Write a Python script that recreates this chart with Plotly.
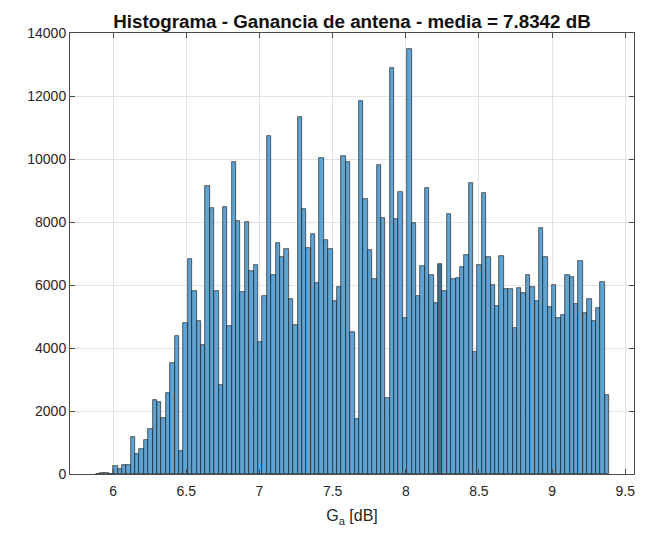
import plotly.graph_objects as go

# Histogram data
bin_start = 5.88
bin_width = 0.03
counts = [
    15, 30, 25, 0,
    250, 150, 285, 295, 1165, 650, 800, 1075, 1420, 2350, 2300, 1790, 2560, 3510, 4385, 715, 4800,
    6820, 5800, 4870, 4110, 9150, 8450, 5820, 2825, 8475, 4690, 9910, 8030, 5765, 8010, 6450, 6620, 4185,
    5640, 10730, 6325, 7345, 6900, 7155, 5565, 4740, 11330, 8410, 7165, 7630, 6060, 10030, 7420, 7135,
    5500, 5925, 10090, 9910, 4510, 1740, 11850, 8740, 7125, 6200, 9820, 8115, 2400, 12900, 8085, 8940,
    4955, 13500, 7970, 5660, 6590, 9085, 6315, 5430,
    6670, 5800, 8250, 6190, 6220, 6570, 6960, 9250, 3880, 6620, 8910, 6900, 6010, 5320, 6930, 5870,
    5870, 4640, 5900, 5740, 6320, 5950, 5500, 7800, 6900, 5290, 6010, 4950, 5050, 6320, 6270, 5400,
    6770, 5100, 5540, 4850, 5260, 6110, 2510,
]
x_ticks = [6, 6.5, 7, 7.5, 8, 8.5, 9, 9.5]
x_ticklabels = ["6", "6.5", "7", "7.5", "8", "8.5", "9", "9.5"]
y_ticks = [0, 2000, 4000, 6000, 8000, 10000, 12000, 14000]
title_text = "Histograma - Ganancia de antena - media = 7.8342 dB"
x_label = "G<sub>a</sub> [dB]"

centers = [bin_start + bin_width * (i + 0.5) for i in range(len(counts))]
face = "#5fa3d3"
dark_index = 78
colors = [face] * len(counts)
colors[dark_index] = "#3f6f93"

FONT = "Liberation Sans, Arial, Helvetica, sans-serif"
TXT = "#262626"

# The page body adds an 8px margin; the figure is sized to fill the rest.
W, H = 641, 526

fig = go.Figure()
fig.add_trace(go.Bar(
    x=centers, y=counts, width=bin_width,
    marker=dict(color=colors, line=dict(color="rgba(20,20,20,0.9)", width=0.7)),
    showlegend=False,
))

fig.update_layout(
    width=W, height=H,
    margin=dict(l=62, r=15, t=25, b=58),
    paper_bgcolor="white", plot_bgcolor="white",
    bargap=0,
    font=dict(family=FONT, color=TXT, size=14),
    title=dict(text="<b>" + title_text + "</b>", x=0.5, xref="paper", xanchor="center",
               y=1 - 13 / H, yanchor="middle", yref="container",
               font=dict(family=FONT, size=18.8, color="#111111")),
)
fig.update_xaxes(
    range=[5.705, 9.56], tickvals=x_ticks, ticktext=x_ticklabels,
    showgrid=True, gridcolor="#e3e3e3", gridwidth=1,
    showline=True, linecolor="#4a4a4a", linewidth=1, mirror="ticks",
    ticks="inside", ticklen=5, tickcolor="#4a4a4a",
    tickfont=dict(size=14, color=TXT), zeroline=False, ticklabelstandoff=4,
    title=dict(text=x_label, font=dict(size=16, color=TXT), standoff=12),
)
fig.update_yaxes(
    range=[0, 14000], tickvals=y_ticks, tickformat="d",
    showgrid=True, gridcolor="#e3e3e3", gridwidth=1,
    showline=True, linecolor="#4a4a4a", linewidth=1, mirror="ticks",
    ticks="inside", ticklen=5, tickcolor="#4a4a4a",
    tickfont=dict(size=14, color=TXT), zeroline=False,
)

fig.write_html("out.html")
